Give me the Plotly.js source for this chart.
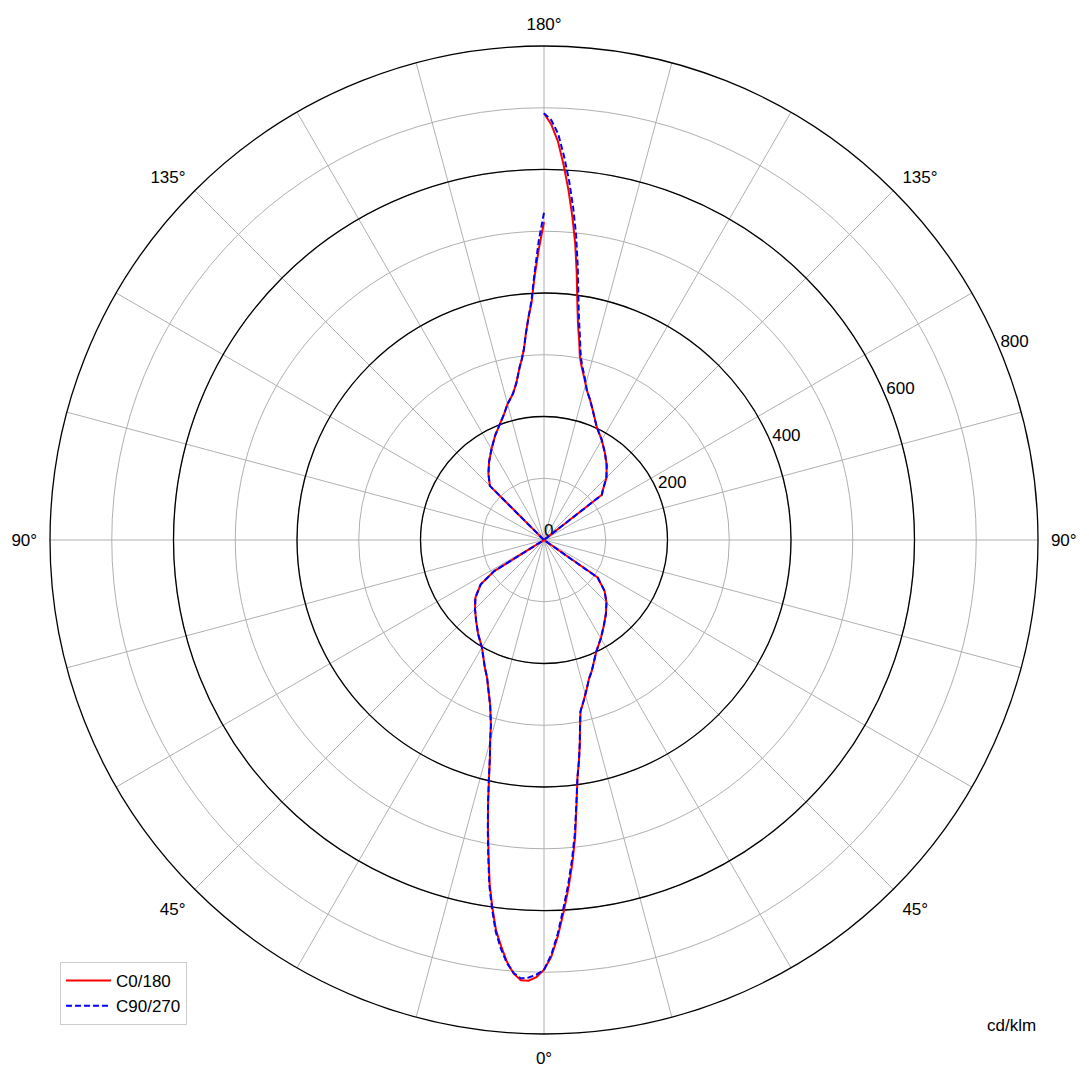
<!DOCTYPE html>
<html>
<head>
<meta charset="utf-8">
<script src="https://cdn.plot.ly/plotly-3.0.1.min.js"></script>
<style>html,body{margin:0;padding:0;background:#fff;}#chart{width:1089px;height:1080px;}</style>
</head>
<body>
<div id="chart"></div>
<script>
// Gamma angles (deg) for the right half (C0 / C90 planes)
const gammaRight = [0,1,2,3,4,5,6,7,8,9,10,11,12,14,16,18,20,25,30,35,40,45,50,55,60,90,125,128,130,135,140,145,150,155,160,162,164,166,168,169,170,171,172,173,174,175,176,177,178,179,180];
const c0Right    = [696,675,642,604,566,526,483,432,389,362,334,306,284,267,251,236,226,200,184,169,156,143,128,106,0,0,0,119,124,143,158,172,187,202,228,240,252,270,290,304,328,352,388,435,483,526,568,608,646,673,691];
const c90Right   = [696,672,638,598,560,520,478,430,389,362,334,306,284,267,251,236,226,200,184,169,156,143,128,106,0,0,0,119,124,143,158,172,187,202,228,240,252,272,293,310,335,362,400,448,497,541,583,622,658,680,691];

// Gamma angles (deg) for the left half (C180 / C270 planes)
const gammaLeft  = [0,1,2,3,4,5,6,7,8,9,10,11,12,13,14,15,16,18,20,22.5,25,30,35,40,45,50,55,58,60,90,132,135,140,145,150,155,160,162,165,168,170,172,173,174,175,176,177,178,179,180];
const c180Left   = [696,708,714,714,704,686,662,637,601,563,517,475,435,396,362,337,312,282,262,241,227,201,186,171,158,145,125,95,0,0,0,124,140,155,170,187,204,212,228,242,258,283,295,311,336,361,385,429,472,515];
const c270Left   = [696,704,709,711,703,688,666,640,604,566,520,477,436,397,362,337,312,282,262,241,227,201,186,171,158,145,125,95,0,0,0,124,140,155,170,187,204,212,228,242,258,283,295,311,336,361,388,434,485,530];

const seriesNames = ['C0/180', 'C90/270'];
const seriesColors = ['#ff0000', '#0000ff'];

const angleTickVals = [0,15,30,45,60,75,90,105,120,135,150,165,180,195,210,225,240,255,270,285,300,315,330,345];
const angleTickText = ['0°','','','45°','','','90°','','','135°','','','180°','','','135°','','','90°','','','45°','',''];
const radialGridVals = [100,200,300,400,500,600,700,800];
const radialLabelVals = [0,200,400,600,800];
const radialLabelText = ['0','200','400','600','800'];
const majorRadialVals = [200,400,600];
const unitLabel = 'cd/klm';

function buildCurve(rightVals, leftVals) {
  const theta = gammaRight.slice();
  const r = rightVals.slice();
  theta.push(null); r.push(null);
  for (let i = gammaLeft.length - 1; i >= 0; i--) {
    theta.push(360 - gammaLeft[i]);
    r.push(leftVals[i]);
  }
  return {theta, r};
}

const curveA = buildCurve(c0Right, c180Left);
const curveB = buildCurve(c90Right, c270Left);

const font = {family: 'Liberation Sans, Arial, Helvetica, sans-serif', size: 17, color: '#000'};

// radial labels sit along the 22.5° (above horizontal, right side) direction
const labelDirection = 112.5;

const traces = [
  {type: 'scatterpolar', mode: 'text', subplot: 'polar', name: 'radial labels',
   r: radialLabelVals, theta: radialLabelVals.map(() => labelDirection),
   text: radialLabelText, textposition: 'top right', textfont: font,
   showlegend: false, hoverinfo: 'skip', cliponaxis: false},
  {type: 'scatterpolar', mode: 'lines', subplot: 'polar2', name: seriesNames[0],
   theta: curveA.theta, r: curveA.r, connectgaps: false,
   line: {color: seriesColors[0], width: 2}},
  {type: 'scatterpolar', mode: 'lines', subplot: 'polar2', name: seriesNames[1],
   theta: curveB.theta, r: curveB.r, connectgaps: false,
   line: {color: seriesColors[1], width: 2, dash: '6px,3px'}}
];

const layout = {
  width: 1089, height: 1080,
  margin: {l: 50, r: 51, t: 46, b: 46, pad: 0},
  paper_bgcolor: '#fff',
  font: font,
  showlegend: true,
  legend: {x: 0.0101, y: 0.0091, xanchor: 'left', yanchor: 'bottom',
           bgcolor: 'rgba(255,255,255,0.85)', bordercolor: '#cccccc', borderwidth: 1,
           font: font, tracegroupgap: 0, itemwidth: 45},
  polar: {
    domain: {x: [0, 1], y: [0, 1]},
    bgcolor: '#fff',
    angularaxis: {rotation: 270, direction: 'counterclockwise',
      tickmode: 'array', tickvals: angleTickVals, ticktext: angleTickText,
      showgrid: true, gridcolor: '#b0b0b0', gridwidth: 1,
      showline: false, ticks: 'outside', ticklen: 9, tickcolor: 'rgba(0,0,0,0)',
      tickfont: font},
    radialaxis: {range: [0, 800], angle: 22.5,
      tickmode: 'array', tickvals: radialGridVals,
      showgrid: true, gridcolor: '#b0b0b0', gridwidth: 1,
      showline: false, showticklabels: false, ticks: ''}
  },
  polar2: {
    domain: {x: [0, 1], y: [0, 1]},
    bgcolor: 'rgba(0,0,0,0)',
    angularaxis: {rotation: 270, direction: 'counterclockwise',
      showgrid: false, showticklabels: false, ticks: '',
      showline: true, linecolor: '#000', linewidth: 1.3},
    radialaxis: {range: [0, 800], tickmode: 'array', tickvals: majorRadialVals,
      showgrid: true, gridcolor: '#000', gridwidth: 1.3,
      showline: false, showticklabels: false, ticks: ''}
  },
  annotations: [
    {text: unitLabel, xref: 'paper', yref: 'paper', x: 0.9727, y: 0.0091,
     xanchor: 'center', yanchor: 'middle', showarrow: false, font: font}
  ]
};

Plotly.newPlot('chart', traces, layout, {staticPlot: true, displayModeBar: false});
</script>
</body>
</html>
